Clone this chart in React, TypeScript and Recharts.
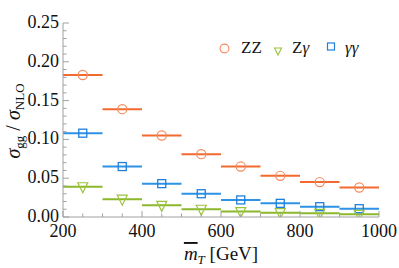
import React from 'react';
import {
  ComposedChart,
  Line,
  Scatter,
  XAxis,
  YAxis,
} from 'recharts';

// bins of m_T (GeV): edges and centres
const binEdges = [200, 300, 400, 500, 600, 700, 800, 900, 1000];
const binCenters = [250, 350, 450, 550, 650, 750, 850, 950];

// sigma_gg / sigma_NLO per bin
const zzValues = [0.183, 0.139, 0.105, 0.081, 0.065, 0.053, 0.045, 0.038];
const zgValues = [0.039, 0.023, 0.015, 0.010, 0.007, 0.0056, 0.0047, 0.0035];
const ggValues = [0.108, 0.065, 0.043, 0.030, 0.022, 0.0176, 0.0133, 0.0107];

const xMajorTicks = [200, 400, 600, 800, 1000];
const xMinorTicks = [250, 300, 350, 450, 500, 550, 650, 700, 750, 850, 900, 950];
const yMajorTicks = [0, 0.05, 0.1, 0.15, 0.2, 0.25];
const yTickLabels = ['0.00', '0.05', '0.10', '0.15', '0.20', '0.25'];

const SERIF = "'Liberation Serif', Tinos, 'Nimbus Roman', 'Noto Serif', FreeSerif, 'DejaVu Serif'";
const AXIS = '#a0a0a0';
const TEXT = '#111';
const textStyle = { fontFamily: SERIF };

const COLORS = {
  zz: { line: '#f26a30', mark: '#f58a5c' },
  zg: { line: '#8cb82c', mark: '#9cc43c' },
  gg: { line: '#2e92e6', mark: '#1f80dc' },
};

const xTicks = [...xMajorTicks, ...xMinorTicks].sort((a, b) => a - b);
const yTicks = Array.from({ length: 26 }, (_, i) => i / 100);

const isMajorY = (v: number) => Math.round(v * 100) % 5 === 0;
const yLabel = (v: number) => {
  const i = yMajorTicks.findIndex((t) => Math.abs(t - v) < 1e-6);
  return i >= 0 ? yTickLabels[i] : '';
};

// step segments, broken between bins with a null point
const toSteps = (values: number[]) =>
  values.flatMap((v, i) => [
    { x: binEdges[i], y: v },
    { x: binEdges[i + 1], y: v },
    { x: binEdges[i + 1], y: null },
  ]);

const toPoints = (values: number[]) =>
  values.map((v, i) => ({ x: binCenters[i], y: v }));

// ── tick renderers (Mathematica-style inward ticks) ─────────────────────
const BottomTick = ({ x, y, payload }: any) => {
  const major = xMajorTicks.includes(payload.value);
  return (
    <g>
      <line x1={x} x2={x} y1={y} y2={y - (major ? 6 : 3.5)} stroke={AXIS} />
      {major && (
        <text x={x} y={y + 20} textAnchor="middle" fontSize={18} style={textStyle} fill={TEXT}>
          {payload.value}
        </text>
      )}
    </g>
  );
};

const TopTick = ({ x, y, payload }: any) => {
  const major = xMajorTicks.includes(payload.value);
  return <line x1={x} x2={x} y1={y} y2={y + (major ? 6 : 3.5)} stroke={AXIS} />;
};

const LeftTick = ({ x, y, payload }: any) => {
  const major = isMajorY(payload.value);
  return (
    <g>
      <line x1={x} x2={x + (major ? 6 : 3.5)} y1={y} y2={y} stroke={AXIS} />
      {major && (
        <text x={x - 4} y={y + 5} textAnchor="end" fontSize={18} style={textStyle} fill={TEXT}>
          {yLabel(payload.value)}
        </text>
      )}
    </g>
  );
};

const RightTick = ({ x, y, payload }: any) => {
  const major = isMajorY(payload.value);
  return <line x1={x} x2={x - (major ? 6 : 3.5)} y1={y} y2={y} stroke={AXIS} />;
};

// ── markers ────────────────────────────────────────────────────────────
const CircleMark = ({ cx, cy }: any) => (
  <circle cx={cx} cy={cy} r={4.6} fill="none" stroke={COLORS.zz.mark} strokeWidth={1.2} />
);
const TriangleMark = ({ cx, cy }: any) => (
  <polygon
    points={`${cx - 5},${cy - 4} ${cx + 5},${cy - 4} ${cx},${cy + 6}`}
    fill="none"
    stroke={COLORS.zg.mark}
    strokeWidth={1.2}
  />
);
const SquareMark = ({ cx, cy }: any) => (
  <rect x={cx - 4} y={cy - 4} width={8} height={8} fill="none" stroke={COLORS.gg.mark} strokeWidth={1.3} />
);

const LegendBox = () => (
  <svg
    width={170}
    height={26}
    style={{ position: 'absolute', left: 215, top: 36, overflow: 'visible' }}
  >
    <circle cx={9.5} cy={12.5} r={4.4} fill="none" stroke={COLORS.zz.mark} strokeWidth={1.1} />
    <text x={26} y={17} fontSize={17} style={textStyle} fill={TEXT}>ZZ</text>
    <polygon points="59.5,12 66.5,12 63,19" fill="none" stroke={COLORS.zg.mark} strokeWidth={1.1} />
    <text x={77} y={17} fontSize={17} style={textStyle} fill={TEXT}>
      Z<tspan fontStyle="italic">γ</tspan>
    </text>
    <rect x={112.5} y={7} width={7} height={7} fill="none" stroke={COLORS.gg.mark} strokeWidth={1.2} />
    <text x={130} y={17} fontSize={17} style={textStyle} fill={TEXT} fontStyle="italic">γγ</text>
  </svg>
);

const XTitle = () => (
  <text x={221} y={260} textAnchor="middle" fontSize={19} style={textStyle} fill={TEXT}>
    <tspan fontStyle="italic" textDecoration="overline">m</tspan>
    <tspan fontStyle="italic" fontSize={13} dy={4}>T</tspan>
    <tspan dy={-4}> [GeV]</tspan>
  </text>
);

const YTitle = () => (
  <text
    x={0}
    y={0}
    transform="translate(20,121) rotate(-90)"
    textAnchor="middle"
    fontSize={20}
    style={textStyle}
    fill={TEXT}
  >
    <tspan fontStyle="italic">σ</tspan>
    <tspan fontSize={13} dy={4}>gg</tspan>
    <tspan dy={-4}> / </tspan>
    <tspan fontStyle="italic">σ</tspan>
    <tspan fontSize={13} dy={4}>NLO</tspan>
  </text>
);

export default function App() {
  return (
    <div style={{ position: 'absolute', left: 0, top: 0, width: 399, height: 268, background: '#fff' }}>
      <ComposedChart width={399} height={268} margin={{ top: 23, right: 20, bottom: 0, left: 0 }}>
        <XAxis
          dataKey="x"
          type="number"
          domain={[200, 1000]}
          allowDataOverflow
          ticks={xTicks}
          interval={0}
          height={51}
          tickSize={0}
          tickMargin={0}
          tickLine={false}
          axisLine={{ stroke: AXIS }}
          tick={<BottomTick />}
          label={<XTitle />}
        />
        <XAxis
          xAxisId="top"
          orientation="top"
          dataKey="x"
          type="number"
          domain={[200, 1000]}
          allowDataOverflow
          ticks={xTicks}
          interval={0}
          height={0}
          tickSize={0}
          tickMargin={0}
          tickLine={false}
          axisLine={{ stroke: AXIS }}
          tick={<TopTick />}
        />
        <YAxis
          type="number"
          domain={[0, 0.25]}
          allowDataOverflow
          ticks={yTicks}
          interval={0}
          width={63}
          tickSize={0}
          tickMargin={0}
          tickLine={false}
          axisLine={{ stroke: AXIS }}
          tick={<LeftTick />}
          label={<YTitle />}
        />
        <YAxis
          yAxisId="right"
          orientation="right"
          type="number"
          domain={[0, 0.25]}
          allowDataOverflow
          ticks={yTicks}
          interval={0}
          width={0}
          tickSize={0}
          tickMargin={0}
          tickLine={false}
          axisLine={{ stroke: AXIS }}
          tick={<RightTick />}
        />

        <Line data={toSteps(zzValues)} dataKey="y" stroke={COLORS.zz.line} strokeWidth={2} dot={false} connectNulls={false} isAnimationActive={false} />
        <Line data={toSteps(ggValues)} dataKey="y" stroke={COLORS.gg.line} strokeWidth={2} dot={false} connectNulls={false} isAnimationActive={false} />
        <Line data={toSteps(zgValues)} dataKey="y" stroke={COLORS.zg.line} strokeWidth={2} dot={false} connectNulls={false} isAnimationActive={false} />

        <Scatter data={toPoints(zzValues)} dataKey="y" shape={<CircleMark />} isAnimationActive={false} />
        <Scatter data={toPoints(ggValues)} dataKey="y" shape={<SquareMark />} isAnimationActive={false} />
        <Scatter data={toPoints(zgValues)} dataKey="y" shape={<TriangleMark />} isAnimationActive={false} />
      </ComposedChart>
      <LegendBox />
    </div>
  );
}
